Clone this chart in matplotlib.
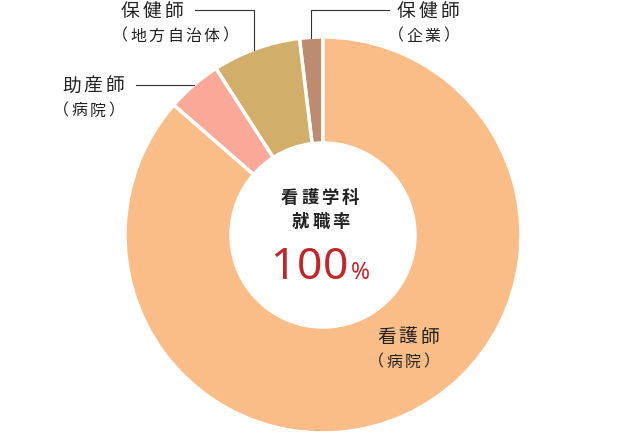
import matplotlib.pyplot as plt

plt.rcParams['font.family'] = ['Noto Sans CJK JP', 'DejaVu Sans']

W, H = 640, 432

# データ（上から反時計回り）
jobs = ['保健師', '保健師', '助産師', '看護師']
places = ['（企業）', '（地方自治体）', '（病院）', '（病院）']
shares = [1.9, 7.2, 4.5, 86.4]
colors = ['#BD8B6F', '#D1AE69', '#FAA898', '#FABD87']
center_title = ['看護学科', '就職率']
rate_value = '100'
rate_unit = '%'

fig = plt.figure(figsize=(6.4, 4.32), dpi=100)
ax = fig.add_axes([0, 0, 1, 1])

cx, cy = 323, 235  # 画像座標（y下向き）
ax.pie(shares, colors=colors, startangle=90, counterclock=True,
       radius=198, center=(cx, H - cy),
       wedgeprops=dict(width=106, edgecolor='white', linewidth=2.5))
ax.set_xlim(0, W)
ax.set_ylim(0, H)
ax.set_aspect('equal')
ax.axis('off')

PX = 100 / 72  # pt -> px


def put(x, y, s, size, step, color='#222222', weight='normal', va='center', family=None):
    # 1文字ずつ並べて字間をあける
    for i, ch in enumerate(s):
        ax.text(x + i * step, H - y, ch, fontsize=size, ha='left', va=va,
                color=color, fontweight=weight, family=family)


def put_c(x, y, s, size, step, **kw):
    total = (len(s) - 1) * step + size * PX
    put(x - total / 2, y, s, size, step, **kw)


# ラベル位置（左端x, 1行目y）
label_pos = [(397, 11), (121, 11), (62, 86), (377, 337)]
for (x, y), job, place in zip(label_pos, jobs, places):
    put(x, y, job, 13.5, 21.7)
    put(x - 9, y + 25, place, 11.5, 18.3)

# 引き出し線
line_kw = dict(color='#333333', lw=0.8)
ax.plot([311, 311, 389], [H - 38, H - 10, H - 10], **line_kw)
ax.plot([195, 254, 254], [H - 10, H - 10, H - 50], **line_kw)
ax.plot([136, 194], [H - 85, H - 85], **line_kw)

# 中央テキスト
put_c(320, 198, center_title[0], 12.5, 20.3, weight='bold')
put_c(321, 222, center_title[1], 12.5, 20.3, weight='bold')
num_font = ['Noto Sans', 'DejaVu Sans']
put(270, 279, rate_value, 32, 26.5, color='#C0272D', va='baseline', family=num_font)
ax.text(351, H - 279, rate_unit, fontsize=16.5, ha='left', va='baseline',
        color='#C0272D', family=num_font)

fig.savefig('out.png', dpi=100)
